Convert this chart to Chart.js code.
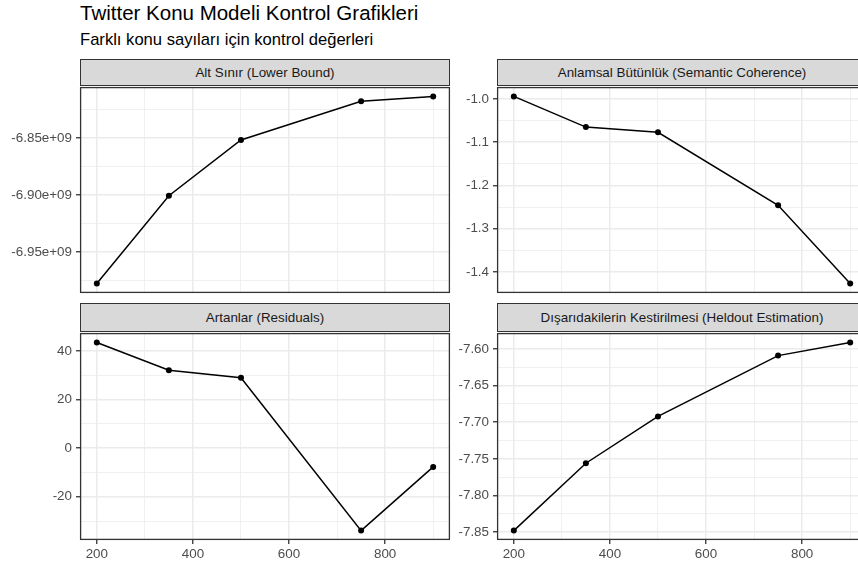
<!DOCTYPE html>
<html>
<head>
<meta charset="utf-8">
<script src="https://cdn.jsdelivr.net/npm/chart.js@4.4.0/dist/chart.umd.min.js"></script>
<style>
  html, body { margin: 0; padding: 0; background: #fff; overflow: hidden; }
  #wrap { position: relative; width: 880px; height: 568px; font-family: 'Liberation Sans', Arial, sans-serif; }
  .title { position: absolute; left: 80px; top: 3px; font-size: 20.5px; line-height: 20.5px; color: #000; white-space: nowrap; }
  .subtitle { position: absolute; left: 80px; top: 32px; font-size: 16.6px; line-height: 16.6px; color: #000; white-space: nowrap; }
  .strip { position: absolute; box-sizing: border-box; border: 1.3px solid #333; background: #d9d9d9; color: #1a1a1a;
           font-size: 13.4px; display: flex; align-items: center; justify-content: center; white-space: nowrap; }
  canvas { position: absolute; }
</style>
</head>
<body>
<div id="wrap">
  <div class="title">Twitter Konu Modeli Kontrol Grafikleri</div>
  <div class="subtitle">Farklı konu sayıları için kontrol değerleri</div>
</div>
<script>
// konu sayısı (x)
const topics = [200, 350, 500, 750, 900];
const xTicks = [200, 400, 600, 800];

const lowerBound = [-6.9776e9, -6.9006e9, -6.8517e9, -6.8178e9, -6.8135e9];
const lowerBoundTicks = [-6.95e9, -6.90e9, -6.85e9];

const semCoherence = [-0.994, -1.065, -1.077, -1.246, -1.427];
const semCoherenceTicks = [-1.4, -1.3, -1.2, -1.1, -1.0];

const residuals = [43.5, 32.1, 29.0, -33.9, -7.7];
const residualsTicks = [-20, 0, 20, 40];

const heldout = [-7.848, -7.756, -7.692, -7.609, -7.591];
const heldoutTicks = [-7.85, -7.80, -7.75, -7.70, -7.65, -7.60];

// ggplot style 5% expansion
function expand(vals) {
  const lo = Math.min(...vals), hi = Math.max(...vals), d = (hi - lo) * 0.05;
  return [lo - d, hi + d];
}

function withMinor(majors, lo, hi) {
  const step = majors[1] - majors[0];
  const all = [majors[0] - step / 2];
  majors.forEach(m => {
    all.push(m);
    all.push(m + step / 2);
  });
  return all.filter(v => v >= lo && v <= hi);
}

function isMajor(v, majors) {
  const tol = Math.abs(majors[1] - majors[0]) * 1e-6;
  return majors.some(m => Math.abs(m - v) < tol);
}

const panelBorder = {
  id: 'panelBorder',
  afterDraw(chart) {
    const a = chart.chartArea, c = chart.ctx;
    c.save();
    c.strokeStyle = '#333333';
    c.lineWidth = 1.3;
    c.strokeRect(Math.round(a.left) + 0.6, Math.round(a.top) + 0.6,
                 Math.round(a.right - a.left) - 1.2, Math.round(a.bottom - a.top) - 1.2);
    c.restore();
  }
};

const font = { family: "'Liberation Sans', Arial, sans-serif", size: 13.4 };
const PAD = 10;

function makePanel(opts) {
  const wrap = document.getElementById('wrap');
  const strip = document.createElement('div');
  strip.className = 'strip';
  strip.textContent = opts.label;
  strip.style.left = opts.left + 'px';
  strip.style.top = opts.stripTop + 'px';
  strip.style.width = opts.width + 'px';
  strip.style.height = (opts.top - opts.stripTop + 1) + 'px';
  wrap.appendChild(strip);

  const xAxisH = opts.showX ? 25 : 0;
  const cv = document.createElement('canvas');
  cv.width = opts.yAxisW + opts.width + PAD;
  cv.height = PAD + opts.height + xAxisH + PAD;
  cv.style.left = (opts.left - opts.yAxisW) + 'px';
  cv.style.top = (opts.top - PAD) + 'px';
  wrap.appendChild(cv);

  const [yMin, yMax] = expand(opts.values);
  const [xMin, xMax] = expand(topics);
  const yAll = withMinor(opts.ticks, yMin, yMax);
  const xAll = withMinor(xTicks, xMin, xMax);

  new Chart(cv.getContext('2d'), {
    type: 'line',
    data: {
      datasets: [{
        data: topics.map((t, i) => ({ x: t, y: opts.values[i] })),
        borderColor: '#000',
        borderWidth: 1.5,
        pointRadius: 3,
        pointBackgroundColor: '#000',
        pointBorderWidth: 0,
        tension: 0
      }]
    },
    options: {
      responsive: false,
      animation: false,
      layout: { padding: { top: PAD, right: PAD, bottom: PAD, left: 0 } },
      plugins: { legend: { display: false }, tooltip: { enabled: false } },
      scales: {
        x: {
          type: 'linear',
          min: xMin, max: xMax,
          afterBuildTicks: s => { s.ticks = xAll.map(v => ({ value: v })); },
          afterFit: s => { s.height = xAxisH; },
          border: { display: false },
          grid: {
            color: '#ebebeb',
            lineWidth: c => isMajor(c.tick.value, xTicks) ? 1.5 : 0.75,
            drawTicks: opts.showX,
            tickLength: 4,
            tickWidth: 1.3,
            tickColor: c => isMajor(c.tick.value, xTicks) ? '#333333' : 'rgba(0,0,0,0)'
          },
          ticks: {
            display: opts.showX,
            autoSkip: false,
            maxRotation: 0,
            padding: 2,
            color: '#4d4d4d',
            font: font,
            callback: v => isMajor(v, xTicks) ? String(v) : ''
          }
        },
        y: {
          type: 'linear',
          min: yMin, max: yMax,
          afterBuildTicks: s => { s.ticks = yAll.map(v => ({ value: v })); },
          afterFit: s => { s.width = opts.yAxisW; },
          border: { display: false },
          grid: {
            color: '#ebebeb',
            lineWidth: c => isMajor(c.tick.value, opts.ticks) ? 1.5 : 0.75,
            tickLength: 4,
            tickWidth: 1.3,
            tickColor: c => isMajor(c.tick.value, opts.ticks) ? '#333333' : 'rgba(0,0,0,0)'
          },
          ticks: {
            autoSkip: false,
            padding: 4,
            color: '#4d4d4d',
            font: font,
            callback: v => isMajor(v, opts.ticks) ? opts.fmt(v) : ''
          }
        }
      }
    },
    plugins: [panelBorder]
  });
}

makePanel({ label: 'Alt Sınır (Lower Bound)', values: lowerBound, ticks: lowerBoundTicks,
  fmt: v => (v / 1e9).toFixed(2) + 'e+09',
  left: 80, width: 370, stripTop: 59, top: 85, height: 210, yAxisW: 80, showX: false });

makePanel({ label: 'Anlamsal Bütünlük (Semantic Coherence)', values: semCoherence, ticks: semCoherenceTicks,
  fmt: v => v.toFixed(1),
  left: 497, width: 370, stripTop: 59, top: 85, height: 210, yAxisW: 45, showX: false });

makePanel({ label: 'Artanlar (Residuals)', values: residuals, ticks: residualsTicks,
  fmt: v => v.toFixed(0),
  left: 80, width: 370, stripTop: 303, top: 331, height: 209, yAxisW: 80, showX: true });

makePanel({ label: 'Dışarıdakilerin Kestirilmesi (Heldout Estimation)', values: heldout, ticks: heldoutTicks,
  fmt: v => v.toFixed(2),
  left: 497, width: 370, stripTop: 303, top: 331, height: 209, yAxisW: 45, showX: true });
</script>
</body>
</html>
